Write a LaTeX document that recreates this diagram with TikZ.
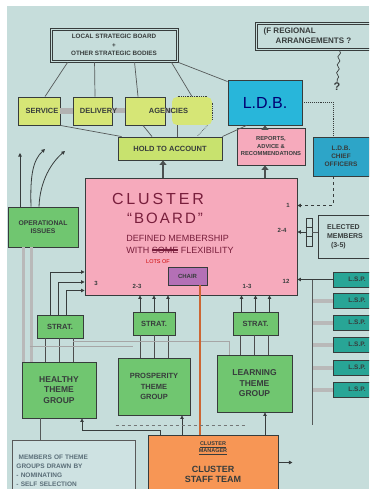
\documentclass[tikz,border=0pt]{standalone}
\usepackage{fontspec}
\setmainfont{Liberation Sans}
\usetikzlibrary{arrows.meta,calc,decorations.pathmorphing}
\definecolor{paper}{RGB}{198,221,219}
\definecolor{ink}{RGB}{55,60,60}
\definecolor{ylw}{RGB}{214,230,118}
\definecolor{htacol}{RGB}{200,226,110}
\definecolor{cyanA}{RGB}{40,182,218}
\definecolor{cyanB}{RGB}{45,165,200}
\definecolor{pinkA}{RGB}{246,170,188}
\definecolor{greenA}{RGB}{112,198,112}
\definecolor{purp}{RGB}{180,112,182}
\definecolor{orng}{RGB}{247,150,85}
\definecolor{tealA}{RGB}{40,165,150}
\definecolor{maroon}{RGB}{120,30,60}
\definecolor{memfill}{RGB}{206,226,226}
\definecolor{memtext}{RGB}{90,110,120}
\newcommand\strikeword[1]{\setbox0\hbox{#1}\rlap{\rule[0.3\ht0]{\wd0}{2pt}}#1}
\begin{document}
\begin{tikzpicture}[x=1pt,y=-1pt,
  box/.style={draw=ink, line width=0.9pt, inner sep=1pt, align=center, text=ink, font=\fontsize{6}{7}\selectfont\bfseries},
  dbox/.style={box, fill=paper},
  ybox/.style={box, fill=ylw},
  gbox/.style={box, fill=greenA, font=\fontsize{8.5}{10.5}\selectfont\bfseries},
  tbox/.style={box, fill=tealA, align=left, font=\fontsize{6.5}{7}\selectfont\bfseries, minimum width=48pt, minimum height=15pt},
  lbl/.style={inner sep=0pt, text=ink, font=\fontsize{7.5}{8}\selectfont\bfseries},
  num/.style={inner sep=0pt, text=ink, font=\fontsize{6}{6}\selectfont\bfseries},
  thinl/.style={draw=ink!85, line width=0.7pt},
  gline/.style={draw=gray!70, line width=0.8pt},
  gbar/.style={draw=gray!55, line width=3pt},
  arr/.style={draw=ink, line width=0.8pt, -{Triangle[length=3.5pt,width=3.5pt]}},
  bigarr/.style={draw=ink!90, line width=2.6pt, -{Triangle[length=4.5pt,width=7pt]}}
]
\fill[white] (0,0) rectangle (369,489);
\clip (0,0) rectangle (369,489);
\fill[paper] (7,6) rectangle (369,489);

% top boxes
\node[dbox, minimum width=128pt, minimum height=34pt, font=\fontsize{6.3}{8.5}\selectfont\bfseries] (lsb) at (114,45) {LOCAL STRATEGIC BOARD\\+\\OTHER STRATEGIC BODIES};
\draw[ink, line width=0.6pt] ($(lsb.north west)+(2.5,2.5)$) rectangle ($(lsb.south east)+(-2.5,-2.5)$);
\node[dbox, minimum width=117pt, minimum height=28pt, align=left, font=\fontsize{8}{10}\selectfont\bfseries] (reg) at (313.5,36) {\hspace*{-12pt}(F REGIONAL\\ ARRANGEMENTS ?};
\draw[ink, line width=0.6pt] ($(reg.north west)+(2.5,2.5)$) rectangle ($(reg.south east)+(-2.5,-2.5)$);
\node[inner sep=0pt, text=ink, font=\fontsize{11}{11}\selectfont\bfseries] (q) at (337,87) {?};
\draw[ink, line width=0.7pt, decorate, decoration={snake, amplitude=1.2pt, segment length=8pt}] ($(reg.south)+(26,0)$) -- (q.north);

% service delivery agencies
\node[ybox, minimum width=42pt, minimum height=28pt] (sd1) at (39,111) {};
\node[ybox, minimum width=39pt, minimum height=28pt] (sd2) at (92.5,111) {};
\node[ybox, minimum width=40pt, minimum height=28pt] (sd3) at (145,111) {};
\node[ybox, draw=none, rounded corners=5pt, minimum width=40pt, minimum height=28pt] (sd4) at (192,111) {};
\draw[ink, densely dotted, line width=0.8pt] ($(sd4.north west)+(6,0)$) -- ($(sd4.north east)+(-6,0)$);
\draw[ink, densely dotted, line width=0.8pt] ($(sd4.north east)+(0,6)$) -- ($(sd4.south east)+(0,-6)$);
\draw[gbar, draw=gray!60, line width=6pt] (sd1.east) -- (sd2.west);
\draw[gbar, draw=gray!60, line width=5pt] (sd2.east) -- (sd3.west);
\draw[gbar, draw=gray!60, line width=5pt] (sd3.east) -- (sd4.west);
\node[lbl] (tsv) at ($(sd1)+(3,0)$) {SERVICE};
\node[lbl] (tdl) at ($(sd2)+(6,0)$) {DELIVERY};
\node[lbl] (tag) at ($(sd3)!0.5!(sd4)+(0,0)$) {AGENCIES};

% LDB
\node[box, fill=cyanA, minimum width=74pt, minimum height=45pt, font=\fontsize{16}{16}\selectfont, text=blue!45!black] (ldb) at (265,102.5) {L.D.B.};
\node[box, fill=htacol, minimum width=104pt, minimum height=23pt, font=\fontsize{7.5}{8.5}\selectfont\bfseries] (hta) at (170,148.5) {HOLD TO ACCOUNT};
\node[box, fill=pinkA, minimum width=68pt, minimum height=37pt, font=\fontsize{5.8}{7.5}\selectfont\bfseries] (rep) at (271,146.5) {REPORTS,\\ADVICE \&\\RECOMMENDATIONS};
\node[box, fill=cyanB, minimum width=56pt, minimum height=39pt, font=\fontsize{6.5}{8}\selectfont\bfseries] (ldbg) at (341,156.5) {L.D.B.\\CHIEF\\OFFICERS};

% connectors at top
\draw[thinl] ($(lsb.south west)+(18,0)$) -- ($(sd1.north)+(6,0)$);
\draw[thinl] ($(lsb.south west)+(45,0)$) -- ($(sd2.north)+(2.5,0)$);
\draw[thinl] ($(lsb.south west)+(85,0)$) -- ($(sd3.north)+(-7,0)$);
\draw[thinl] ($(lsb.south west)+(122,0)$) -- ($(sd4.north)+(0,0)$);
\draw[thinl] (lsb.south east) -- ($(ldb.north west)+(0,2)$);
\draw[thinl] (sd1.south east) -- ($(hta.north west)+(4,0)$);
\draw[thinl] ($(sd3.south)+(-2,0)$) -- ($(hta.north)+(-18,0)$);
\draw[thinl] ($(sd4.south)+(-15,0)$) -- ($(hta.north)+(7,0)$);
\draw[thinl, densely dotted] ($(sd4.south east)+(-5,0)$) -- ($(hta.north)+(27,0)$);
\draw[thinl] ($(ldb.south west)+(19,0)$) -- (hta.north east);
\coordinate (rl) at ($(rep.north)+(-6,0)$);
\draw[bigarr] (rl) -- (rl |- ldb.south);
\coordinate (lg) at ($(ldbg.south)+(-8,0)$);
\draw[ink, densely dotted, line width=0.9pt] (ldb.east) -| (lg |- ldbg.north);

% cluster board
\node[box, fill=pinkA, minimum width=212pt, minimum height=117pt] (board) at (191,236.5) {};
\node[inner sep=0pt, text=maroon, font=\fontsize{16}{16}\selectfont\addfontfeatures{LetterSpace=18}] (tcl) at (158,199) {CLUSTER};
\node[inner sep=0pt, text=maroon, font=\fontsize{15}{15}\selectfont\addfontfeatures{LetterSpace=14}] (tbo) at (165,218) {``BOARD''};
\node[inner sep=0pt, text=maroon, align=left, font=\fontsize{9}{12}\selectfont] (tdef) at (180,244) {DEFINED MEMBERSHIP\\WITH \strikeword{SOME} FLEXIBILITY};
\node[inner sep=0pt, text=red!80!black, font=\fontsize{5.5}{5.5}\selectfont] (tlots) at (158,262) {LOTS OF};
\node[box, fill=purp, minimum width=39pt, minimum height=18pt, font=\fontsize{6}{6}\selectfont\bfseries] (chair) at (187.5,276) {CHAIR};
\coordinate (bh) at ($(board.north)+(-28,0)$);
\draw[bigarr] (bh) -- (bh |- hta.south);
\coordinate (br) at ($(board.north)+(74,0)$);
\draw[bigarr] (br) -- (br |- rep.south);
\node[num] (n1) at (288,205) {1};
\node[num] (n24) at (282,230) {2-4};
\node[num] (n12) at (286,281) {12};
\node[num] (n3) at (96,283) {3};
\node[num] (n23a) at (137,286) {2-3};
\node[num] (n13) at (247,286) {1-3};

% operational issues
\node[box, fill=greenA, minimum width=70pt, minimum height=40pt, font=\fontsize{6.8}{8.5}\selectfont\bfseries] (ops) at (43,227) {OPERATIONAL\\ISSUES};
\coordinate (oa1) at (20,153);
\coordinate (oa2) at (45,149);
\coordinate (oa3) at (65,151);
\draw[arr] ($(ops.north)+(-23,0)$) -- (oa1);
\draw[arr] ($(ops.north)+(-12,0)$) .. controls (30,175) and (33,160) .. (oa2);
\draw[arr] ($(ops.north)+(-4,0)$) .. controls (40,180) and (52,162) .. (oa3);

% right side
\draw[ink, dashed, line width=0.8pt, -{Triangle[length=3.5pt,width=3.5pt]}] (lg) |- ($(board.east)+(0,-31)$);
\node[box, fill=paper, minimum width=54pt, minimum height=43pt, align=left, font=\fontsize{7}{9}\selectfont\bfseries] (elect) at (345,236.5) {ELECTED\\MEMBERS\\\ \ (3-5)};
\node[draw=ink, line width=0.7pt, minimum width=6pt, minimum height=28pt, inner sep=0pt] (comb) at (309,232) {};
\draw[ink, line width=0.6pt] ($(comb.north west)+(0,9.3)$) -- ($(comb.north east)+(0,9.3)$);
\draw[ink, line width=0.6pt] ($(comb.north west)+(0,18.6)$) -- ($(comb.north east)+(0,18.6)$);
\draw[thinl] (comb.east) -- (comb.east -| elect.west);
\draw[arr] (comb.west) -- (comb.west -| board.east);

\node[tbox] (t1) at (357,279.5) {L.S.P.};
\node[tbox] (t2) at (357,300.5) {L.S.P.};
\node[tbox] (t3) at (357,322.5) {L.S.P.};
\node[tbox] (t4) at (357,344.5) {L.S.P.};
\node[tbox] (t5) at (357,367.5) {L.S.P.};
\node[tbox] (t6) at (357,389.5) {L.S.P.};
\foreach \i in {2,...,6} \draw[gbar, line width=4pt] (t\i.west) -- ($(t\i.west)+(-20,0)$);
\draw[thinl] ($(t1.west)+(-20,0)$) -- ($(t6.west)+(-20,35)$);
\draw[arr] (t1.west) -- (t1.west -| board.east);

% strat boxes
\node[gbox, minimum width=46pt, minimum height=23pt, font=\fontsize{7.5}{8}\selectfont\bfseries] (strat1) at (60,326.5) {STRAT.};
\node[gbox, minimum width=42pt, minimum height=23pt, font=\fontsize{7.5}{8}\selectfont\bfseries] (strat2) at (154,323.5) {STRAT.};
\node[gbox, minimum width=45pt, minimum height=23pt, font=\fontsize{7.5}{8}\selectfont\bfseries] (strat3) at (255.5,323.5) {STRAT.};

% theme groups
\node[gbox, minimum width=74pt, minimum height=56pt] (healthy) at (59,390) {HEALTHY\\THEME\\GROUP};
\node[gbox, minimum width=72pt, minimum height=57pt, font=\fontsize{7.5}{10.5}\selectfont\bfseries] (prosperity) at (154,386.5) {PROSPERITY\\THEME\\GROUP};
\node[gbox, minimum width=75pt, minimum height=57pt] (learning) at (254.5,383.5) {LEARNING\\THEME\\GROUP};

% ops grey bars down
\draw[gbar] ($(ops.south)+(-20,0)$) -- ($(ops.south)+(-20,115)$);
\draw[gbar] ($(ops.south)+(-12,0)$) -- ($(ops.south)+(-12,115)$);

% strat -> board
\draw[arr] ($(strat1.north)+(-10,0)$) |- ($(board.west)+(0,35.5)$);
\draw[arr] ($(strat1.north)+(-2,0)$) |- ($(board.west)+(0,45.5)$);
\draw[arr] ($(strat1.north)+(6,0)$) |- ($(board.west)+(0,54)$);
\foreach \d [count=\k] in {-14,0,14} {
  \coordinate (sa\k) at ($(strat2.north)+(\d,0)$);
  \draw[arr] (sa\k) -- (sa\k |- board.south);
  \coordinate (sb\k) at ($(strat3.north)+(\d,0)$);
  \draw[arr] (sb\k) -- (sb\k |- board.south);
  \coordinate (ha\k) at ($(healthy.north)+(\d,0)$);
  \draw[gline, draw=gray!60!black] (ha\k) -- (ha\k |- strat1.south);
  \coordinate (pa\k) at ($(prosperity.north)+(\d,0)$);
  \draw[gline, draw=gray!60!black] (pa\k) -- (pa\k |- strat2.south);
  \coordinate (la\k) at ($(learning.north)+(\d,0)$);
  \draw[gline, draw=gray!60!black] (la\k) -- (la\k |- strat3.south);
}
\draw[gline] ($(healthy.north west)+(8,-15)$) -- ($(prosperity.north west)+(15,-11)$);
\draw[gline] ($(healthy.north)+(14,-20)$) -- ($(learning.north west)+(13,-13)$) -- ($(learning.north west)+(13,0)$);

% cluster staff team
\node[box, fill=orng, minimum width=130pt, minimum height=65pt] (cst) at (213,467.5) {};
\node[inner sep=0pt, text=ink, align=center, font=\fontsize{5.5}{7}\selectfont\bfseries] (tmgr) at (213,448) {\underline{CLUSTER}\\\underline{MANAGER}};
\node[inner sep=0pt, text=ink, align=center, font=\fontsize{9}{10}\selectfont\bfseries] (tcst) at (213,474) {CLUSTER\\STAFF TEAM};
\coordinate (cc) at ($(chair.south)+(12.5,0)$);
\draw[draw=brown!80!red, line width=1.4pt] (cc) -- (cc |- cst.north);
\coordinate (cp) at ($(cst.north)+(-31,0)$);
\draw[arr] (cp) -- (cp |- prosperity.south);
\coordinate (cl) at ($(cst.north)+(52,0)$);
\draw[arr] (cl) -- (cl |- learning.south);
\coordinate (ch) at ($(cst.north)+(-53,0)$);
\coordinate (hh) at ($(healthy.south)+(23,12)$);
\draw[arr] (ch) |- (hh) -- (hh |- healthy.south);
\draw[ink!70, dashed, line width=0.6pt] ($(prosperity.south west)+(-2,10)$) -- ($(learning.south)+(-10,13)$);
\coordinate (ce) at ($(cst.east)+(14,-5)$);
\draw[arr] ($(cst.east)+(0,-5)$) -- (ce);

% members
\node[box, draw=gray!70!black, fill=memfill, minimum width=123pt, minimum height=60pt, text=memtext, align=left, text width=115pt, anchor=north west, font=\fontsize{6.5}{9}\selectfont\bfseries] (members) at (12,440) {\ MEMBERS OF THEME\\GROUPS DRAWN BY\\ - NOMINATING\\ - SELF SELECTION};
\coordinate (hm) at ($(healthy.south)+(-19,0)$);
\draw[thinl] (hm) -- (hm |- members.north);
\end{tikzpicture}
\end{document}
